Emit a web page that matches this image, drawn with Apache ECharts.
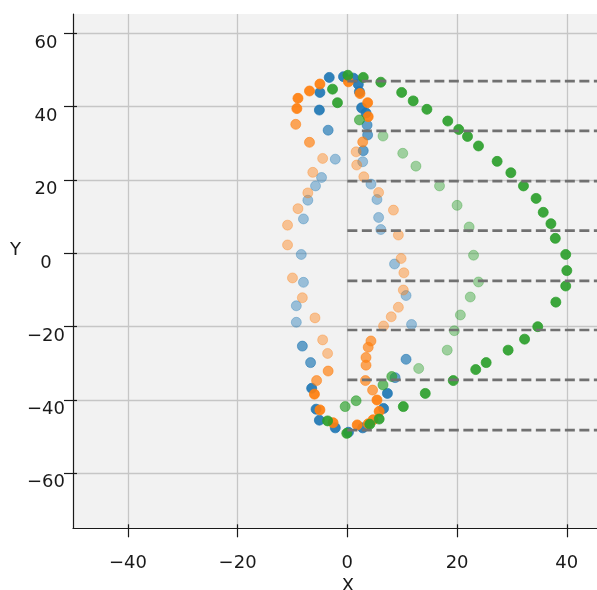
<!DOCTYPE html>
<html>
<head>
<meta charset="utf-8">
<script src="https://cdn.jsdelivr.net/npm/echarts@6/dist/echarts.min.js"></script>
<style>
  html, body { margin: 0; padding: 0; background: #ffffff; }
  #chart { width: 597px; height: 590px; }
</style>
</head>
<body>
<div id="chart"></div>
<script>
// Axis ranges and tick labels
const xRange = [-50, 45.5];
const yRange = [-75, 65.3];
const xTicks = [-40, -20, 0, 20, 40];
const yTicks = [-60, -40, -20, 0, 20, 40, 60];

// Horizontal reference levels (dashed), drawn from x = 0 to the right edge
const guideY = [47.0, 33.4, 19.7, 6.2, -7.5, -20.9, -34.5, -48.2];
const guideStartX = 0;

// Curve 1 (blue): points split by depth (near / mid / far)
const blueNear = [[-3.3,48.0],[-0.7,48.2],[1.1,47.8],[-5.0,43.9],[-5.1,39.1],[2.0,46.1],[2.2,44.1],[2.6,39.7],[3.4,38.3],
  [-6.5,-36.8],[-5.7,-42.5],[-5.1,-45.5],[-2.2,-47.6],[0.2,-48.8],[2.8,-47.6],[6.6,-42.3],[7.3,-38.2]];
const blueMid = [[3.6,35.0],[3.7,32.3],[2.9,28.0],[-3.5,33.6],[-8.2,-25.3],[-6.7,-29.8],[8.7,-33.9],[10.7,-28.9]];
const blueFar = [[-2.2,25.7],[-4.7,20.7],[-5.8,18.4],[-7.2,14.5],[-8.0,9.4],[-8.4,-0.3],[-8.0,-7.9],[-9.3,-14.3],
  [-9.3,-18.8],[2.8,25.0],[4.3,18.9],[5.4,14.7],[5.7,9.8],[6.1,6.5],[8.6,-2.9],[10.7,-11.5],[11.7,-19.4]];

// Curve 2 (orange)
const orangeNear = [[-5.0,46.2],[-6.9,44.3],[-9.0,42.3],[-9.2,39.5],[0.2,46.8],[2.3,43.6],[3.7,41.1],[3.8,37.3],
  [-6.0,-38.4],[-5.0,-42.7],[-2.6,-46.2],[1.8,-46.8],[3.8,-46.5],[4.7,-45.4],[5.8,-43.1],[5.4,-40.0]];
const orangeMid = [[-9.4,35.2],[-6.9,30.3],[2.8,30.4],[-5.6,-34.7],[-3.5,-32.1],[4.6,-37.3],[3.3,-34.7],
  [3.4,-30.5],[3.4,-28.4],[3.8,-25.6],[4.3,-23.9]];
const orangeFar = [[-4.5,25.9],[-6.3,22.1],[-7.2,16.5],[-9.0,12.2],[-10.9,7.7],[-10.9,2.3],[-10.0,-6.7],[-8.2,-12.1],
  [-5.9,-17.6],[-4.5,-23.6],[-3.6,-27.3],[1.6,27.7],[1.7,24.1],[3.0,20.9],[5.7,16.6],[8.4,11.8],[9.3,5.0],
  [9.8,-1.4],[10.3,-5.3],[10.2,-10.0],[9.3,-14.7],[8.0,-17.3],[6.6,-19.8]];

// Curve 3 (green)
const greenNear = [[0.1,48.6],[2.9,48.0],[6.1,46.7],[9.9,43.9],[12.0,41.6],[14.5,39.3],[18.3,36.1],[20.3,33.8],
  [21.9,31.9],[23.9,29.3],[27.3,25.1],[29.8,22.0],[32.1,18.4],[34.4,15.0],[35.7,11.2],[37.1,8.1],[37.9,4.1],
  [39.8,-0.3],[40.0,-4.7],[39.8,-8.9],[38.0,-13.3],[34.7,-20.0],[32.3,-23.4],[29.3,-26.4],[25.3,-29.8],
  [23.4,-31.7],[19.3,-34.7],[14.2,-38.2],[10.2,-41.8],[5.8,-45.2],[4.1,-46.6],[-0.1,-49.1],[-3.6,-45.7],
  [-2.7,44.8],[-1.8,41.1]];
const greenMid = [[2.2,36.4],[-0.4,-41.8],[1.6,-40.2],[6.5,-35.9],[8.1,-33.6]];
const greenFar = [[6.5,32.0],[10.1,27.3],[12.5,23.8],[16.8,18.4],[20.0,13.1],[22.2,7.2],[23.0,-0.5],[23.9,-7.8],
  [22.4,-11.9],[20.6,-16.8],[19.5,-21.1],[18.2,-26.4],[13.0,-31.4]];

const palette = { blue: '#1f77b4', orange: '#ff7f0e', green: '#2ca02c' };
const shade = { far: 0.42, mid: 0.68, near: 0.92 };
const ink = '#1a1a1a';
const font = 'DejaVu Sans';

function dots(data, color, alpha) {
  return {
    type: 'scatter',
    data: data,
    symbolSize: 10,
    silent: true,
    itemStyle: { color: color, opacity: alpha, borderColor: color, borderWidth: 0.8 }
  };
}

function minusFmt(v) { return v < 0 ? '\u2212' + Math.abs(v) : String(v); }

const series = [];
guideY.forEach(function (y) {
  series.push({
    type: 'line',
    data: [[guideStartX, y], [xRange[1], y]],
    symbol: 'none',
    silent: true,
    lineStyle: { color: '#717171', width: 2.7, type: [10, 4.5] }
  });
});
series.push(dots(blueFar, palette.blue, shade.far));
series.push(dots(blueMid, palette.blue, shade.mid));
series.push(dots(blueNear, palette.blue, shade.near));
series.push(dots(orangeFar, palette.orange, shade.far));
series.push(dots(orangeMid, palette.orange, shade.mid));
series.push(dots(orangeNear, palette.orange, shade.near));
series.push(dots(greenFar, palette.green, shade.far));
series.push(dots(greenMid, palette.green, shade.mid));
series.push(dots(greenNear, palette.green, shade.near));

// Companion axes that only draw the short inner half of each tick
function innerTicks(ticks, range) {
  return {
    type: 'value', min: range[0], max: range[1],
    axisLine: { show: false, onZero: false },
    axisTick: { show: true, inside: true, length: 4, customValues: ticks, lineStyle: { color: ink, width: 1.2 } },
    axisLabel: { show: false },
    splitLine: { show: false }
  };
}

const chart = echarts.init(document.getElementById('chart'), null, { renderer: 'canvas' });
chart.setOption({
  animation: false,
  backgroundColor: '#ffffff',
  grid: {
    left: 73, right: 0, top: 14, bottom: 61.7,
    outerBoundsMode: 'none', containLabel: false,
    show: true, backgroundColor: '#f2f2f2', borderWidth: 0
  },
  xAxis: [{
    type: 'value', min: xRange[0], max: xRange[1],
    name: 'X', nameLocation: 'middle', nameGap: 46,
    nameTextStyle: { fontFamily: font, fontSize: 18, color: ink, padding: [0, 0, 0, 26] },
    axisLine: { show: true, onZero: false, lineStyle: { color: ink, width: 1.2 } },
    axisTick: { show: true, length: 9, customValues: xTicks, lineStyle: { color: ink, width: 1.2 } },
    axisLabel: { customValues: xTicks, margin: 26, fontFamily: font, fontSize: 18, color: ink,
      verticalAlign: 'top', lineHeight: 18, formatter: minusFmt },
    splitLine: { show: true, lineStyle: { color: '#c6c6c6', width: 1.3 } }
  }, Object.assign(innerTicks(xTicks, xRange), { position: 'bottom' })],
  yAxis: [{
    type: 'value', min: yRange[0], max: yRange[1],
    name: 'Y', nameLocation: 'middle', nameGap: 51, nameRotate: 0,
    nameTextStyle: { fontFamily: font, fontSize: 18, color: ink, verticalAlign: 'bottom', lineHeight: 42 },
    axisLine: { show: true, onZero: false, lineStyle: { color: ink, width: 1.2 } },
    axisTick: { show: true, length: 9, customValues: yTicks, lineStyle: { color: ink, width: 1.2 } },
    axisLabel: { customValues: yTicks, margin: 27, align: 'center', fontFamily: font, fontSize: 18, color: ink,
      verticalAlign: 'top', lineHeight: 19, formatter: minusFmt },
    splitLine: { show: true, lineStyle: { color: '#c6c6c6', width: 1.3 } }
  }, Object.assign(innerTicks(yTicks, yRange), { position: 'left' })],
  series: series
});
</script>
</body>
</html>
